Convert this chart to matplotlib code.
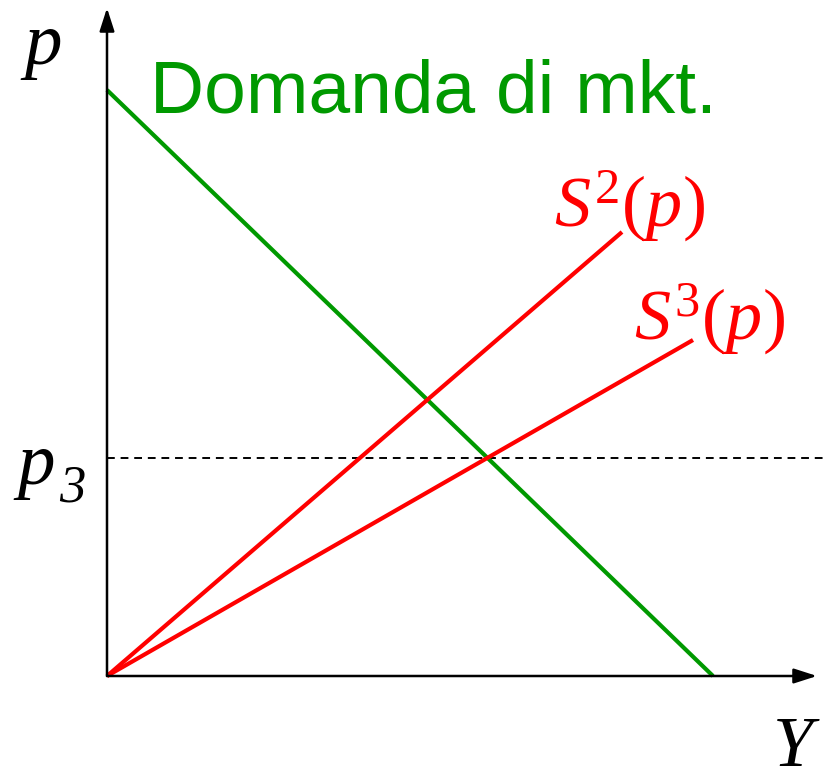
import matplotlib
matplotlib.use("Agg")
import matplotlib.pyplot as plt

plt.rcParams['mathtext.fontset'] = 'custom'
plt.rcParams['mathtext.rm'] = 'Liberation Serif'
plt.rcParams['mathtext.it'] = 'Liberation Serif:italic'

# Data (economic units)
demand_x = [0.0, 6.06]
demand_y = [5.86, 0.0]
s2_x = [0.0, 5.15]
s2_y = [0.0, 4.44]
s3_x = [0.0, 5.86]
s3_y = [0.0, 3.36]
p3 = 2.18

fig = plt.figure(figsize=(8.23, 7.81), dpi=100)
ax = fig.add_axes([0, 0, 1, 1])
ax.set_xlim(-1.07, 7.16)
ax.set_ylim(-1.05, 6.76)
ax.axis('off')

green = '#009900'
red = '#ff0000'

# axes with arrows
ax.annotate('', xy=(7.10, 0), xytext=(0, 0),
            arrowprops=dict(arrowstyle='-|>,head_length=1.4,head_width=0.45', lw=1.8, color='black',
                            shrinkA=0, shrinkB=0))
ax.annotate('', xy=(0, 6.68), xytext=(0, 0),
            arrowprops=dict(arrowstyle='-|>,head_length=1.4,head_width=0.45', lw=1.8, color='black',
                            shrinkA=0, shrinkB=0))

ax.plot([0, 7.16], [p3, p3], color='black', lw=1.4, ls=(0, (4, 3)))

ax.plot(demand_x, demand_y, color=green, lw=3.0, solid_capstyle='butt')
ax.plot(s2_x, s2_y, color=red, lw=3.0, solid_capstyle='butt')
ax.plot(s3_x, s3_y, color=red, lw=3.0, solid_capstyle='butt')

serif_it = dict(family='Liberation Serif', style='italic')
ax.text(-0.64, 6.3, 'p', fontsize=54, ha='center', va='center', **serif_it)
ax.text(-0.71, 2.1, 'p', fontsize=54, ha='center', va='center', **serif_it)
ax.text(-0.35, 1.88, '3', fontsize=38, ha='center', va='center', **serif_it)
ax.text(6.86, -0.72, 'Y', fontsize=52, ha='center', va='center', **serif_it)

ax.text(0.43, 5.83, 'Domanda di mkt.', fontsize=54, color=green,
        family='Liberation Sans', ha='left', va='center')
ax.text(4.47, 4.70, r'$S^{2}(p)$', fontsize=52, color=red, ha='left', va='center')
ax.text(5.27, 3.57, r'$S^{3}(p)$', fontsize=52, color=red, ha='left', va='center')

fig.savefig('out.png', dpi=100)
